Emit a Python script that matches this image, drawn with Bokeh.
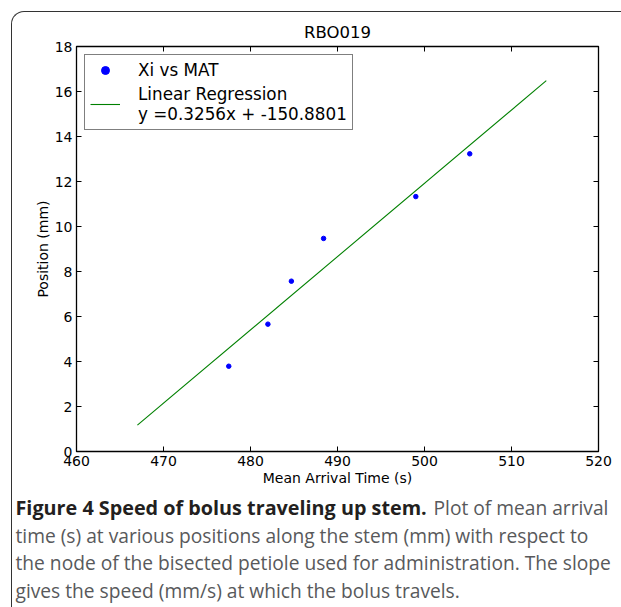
from bokeh.plotting import figure
from bokeh.layouts import column
from bokeh.models import (LinearAxis, Label, Legend, LegendItem,
                          FixedTicker, Range1d, InlineStyleSheet)
from bokeh.embed import file_html
from bokeh.resources import INLINE

# ---- data ----
mat_s = [477.5, 482.0, 484.7, 488.4, 499.0, 505.2]
pos_mm = [3.79, 5.66, 7.57, 9.47, 11.33, 13.23]
fit_x = [467.0, 514.0]
fit_y = [1.17, 16.48]
x_ticks = [460, 470, 480, 490, 500, 510, 520]
y_ticks = [0, 2, 4, 6, 8, 10, 12, 14, 16, 18]
title_text = "RBO019"
x_label = "Mean Arrival Time (s)"
y_label = "Position (mm)"
legend_pts = "Xi vs MAT"
legend_fit = "Linear Regression\ny =0.3256x + -150.8801"
cap_bold = "Figure 4 Speed of bolus traveling up stem."
cap_lines = [
    "Plot of mean arrival",
    "time (s) at various positions along the stem (mm) with respect to",
    "the node of the bisected petiole used for administration. The slope",
    "gives the speed (mm/s) at which the bolus travels.",
]

TICK_FONT = "DejaVu Sans"
W = 621
FL, FT, FW, FH = 76, 46, 522, 405          # frame placement on the canvas
MAIN_H = 490
CAP_H = 607 - MAIN_H

BORDER_MAIN = InlineStyleSheet(css="""
:host { position: relative; }
:host::after { content: ''; position: absolute; left: 11px; top: 11px; right: 0; bottom: 0;
  border-left: 1.5px solid #333; border-top: 1.5px solid #333;
  border-top-left-radius: 13px; pointer-events: none; z-index: 5; }
""")
BORDER_CAP = InlineStyleSheet(css="""
:host { position: relative; }
:host::after { content: ''; position: absolute; left: 11px; top: 0; right: 0; bottom: 0;
  border-left: 1.5px solid #333; pointer-events: none; z-index: 5; }
""")

p = figure(frame_width=FW, frame_height=FH,
           min_border_left=FL, min_border_right=W - FL - FW,
           min_border_top=FT, min_border_bottom=MAIN_H - FT - FH,
           x_range=Range1d(460, 520), y_range=Range1d(0, 18),
           output_backend="svg", toolbar_location=None,
           title=title_text, stylesheets=[BORDER_MAIN])
p.frame_align = False

p.grid.visible = False
p.outline_line_color = "black"
p.outline_line_width = 1.3
p.background_fill_color = "white"
p.border_fill_color = "white"

p.title.text_font = TICK_FONT
p.title.text_font_size = "16.5px"
p.title.text_font_style = "normal"
p.title.align = "center"
p.title.text_color = "black"

for ax, lab, ticks in ((p.xaxis[0], x_label, x_ticks), (p.yaxis[0], y_label, y_ticks)):
    ax.ticker = FixedTicker(ticks=ticks)
    ax.axis_label = lab
    ax.axis_line_color = None
    ax.major_tick_in = 5
    ax.major_tick_out = 0
    ax.major_tick_line_color = "black"
    ax.minor_tick_line_color = None
    ax.major_label_text_font = TICK_FONT
    ax.major_label_text_font_size = "14px"
    ax.major_label_text_color = "black"
    ax.axis_label_text_font = TICK_FONT
    ax.axis_label_text_font_size = "14px"
    ax.axis_label_text_font_style = "normal"
    ax.axis_label_text_color = "black"
    ax.major_label_standoff = 4
    ax.axis_label_standoff = 1

for loc, ticks in (("above", x_ticks), ("right", y_ticks)):
    ax = LinearAxis(ticker=FixedTicker(ticks=ticks))
    ax.axis_line_color = None
    ax.major_tick_in = 5
    ax.major_tick_out = 0
    ax.minor_tick_line_color = None
    ax.major_label_text_font_size = "1px"
    ax.major_label_text_color = None
    ax.major_label_standoff = 0
    p.add_layout(ax, loc)

sc = p.scatter(mat_s, pos_mm, size=4.5, color="#0000ff", line_color="#0000ff")
ln = p.line(fit_x, fit_y, line_color="#008000", line_width=1.1)

legend = Legend(items=[LegendItem(label=legend_pts, renderers=[sc]),
                       LegendItem(label=legend_fit, renderers=[ln])],
                location="top_left")
legend.border_line_color = "black"
legend.border_line_width = 1
legend.background_fill_alpha = 1
legend.label_text_font = TICK_FONT
legend.label_text_font_size = "16.8px"
legend.label_text_color = "black"
legend.glyph_width = 30
legend.label_standoff = 18
legend.margin = 8
legend.padding = 5
legend.spacing = 4
p.add_layout(legend)

# ---- caption panel ----
cap = figure(width=W, height=CAP_H, x_range=Range1d(0, W), y_range=Range1d(CAP_H, 0),
             min_border=0, x_axis_type=None, y_axis_type=None,
             output_backend="svg", toolbar_location=None, stylesheets=[BORDER_CAP])
cap.frame_align = False
cap.grid.visible = False
cap.outline_line_color = None
cap.background_fill_color = "white"
cap.border_fill_color = "white"

CAP_FONT = "Open Sans"
CAP_SIZE = "19.2px"
CAP_BOLD_SIZE = "19.8px"
line_mid = [507 - MAIN_H, 535 - MAIN_H, 562 - MAIN_H, 590 - MAIN_H]
cap_x = 15
cap.add_layout(Label(x=cap_x, y=line_mid[0], text=cap_bold, text_font=CAP_FONT,
                     text_font_size=CAP_BOLD_SIZE, text_font_style="bold",
                     text_color="#231f20", text_baseline="middle"))
cap.add_layout(Label(x=433, y=line_mid[0], text=cap_lines[0], text_font=CAP_FONT,
                     text_font_size=CAP_SIZE, text_color="#58595b",
                     text_baseline="middle"))
for i in range(1, 4):
    cap.add_layout(Label(x=cap_x, y=line_mid[i], text=cap_lines[i], text_font=CAP_FONT,
                         text_font_size=CAP_SIZE, text_color="#58595b",
                         text_baseline="middle"))

layout = column(p, cap, spacing=0)
open("out.html", "w").write(file_html(layout, INLINE))
